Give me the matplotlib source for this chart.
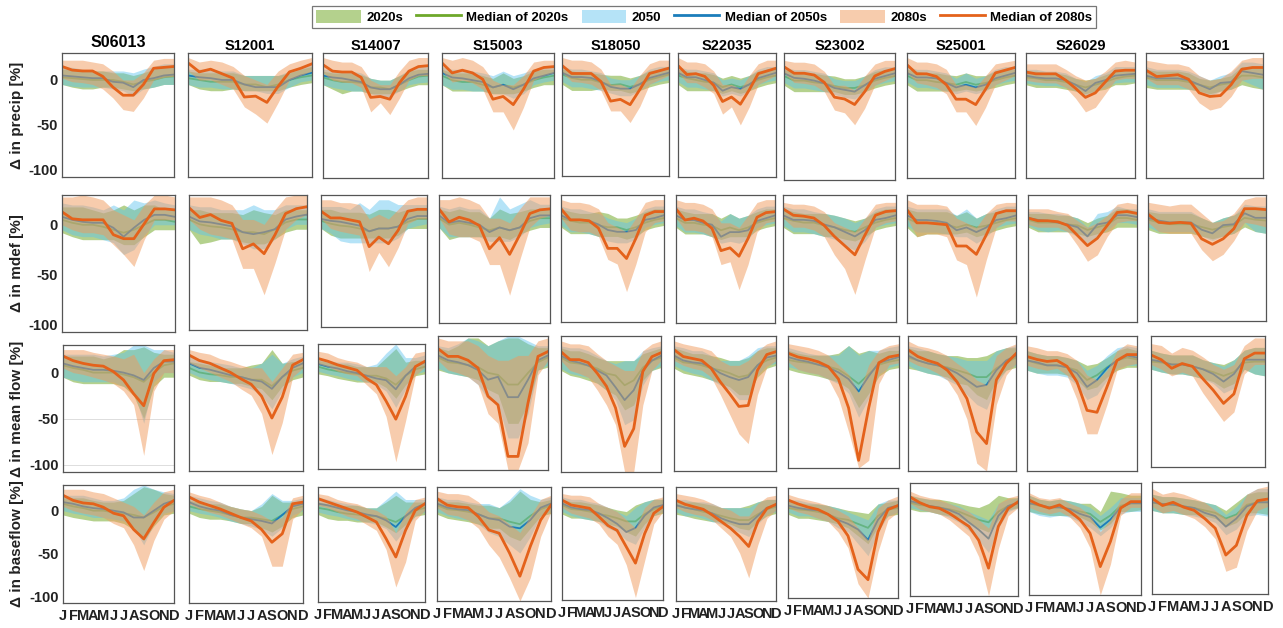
import matplotlib

matplotlib.use("Agg")
import matplotlib.pyplot as plt
from matplotlib.lines import Line2D
from matplotlib.patches import Patch

plt.rcParams["font.family"] = ["Liberation Sans", "DejaVu Sans"]
plt.rcParams["font.weight"] = "bold"

MONTHS = list("JFMAMJJASOND")
STATIONS = ["S06013", "S12001", "S14007", "S15003", "S18050",
            "S22035", "S23002", "S25001", "S26029", "S33001"]
VARIABLES = ["precip", "mdef", "mean flow", "baseflow"]

# ── Change in precipitation [%] ─────────────────────────────────────────
precip_med20 = [
    [3, 2, 1, 0, 0, 0, -2, -5, -2, 0, 3, 4],
    [2, 0, -2, -2, -2, -5, -5, -8, -5, 0, 3, 5],
    [3, 0, -2, -2, -3, -8, -8, -10, -5, 0, 4, 5],
    [5, 0, -2, -2, -5, -8, -5, -8, -5, 0, 3, 5],
    [6, 2, 0, 0, -3, -6, -5, -8, -5, 0, 3, 6],
    [5, 2, 0, -2, -3, -8, -5, -8, -5, 0, 3, 5],
    [5, 0, 0, -2, -3, -6, -8, -8, -5, 0, 3, 5],
    [5, 0, 0, -2, -3, -5, -2, -5, -3, 0, 3, 5],
    [3, 2, 0, 0, -2, -5, -8, -5, -2, 2, 4, 5],
    [3, 0, 0, 0, -2, -5, -8, -5, -3, 5, 5, 3],
]
precip_lo20 = [
    [-5, -8, -10, -10, -8, -8, -10, -12, -10, -8, -5, -5],
    [-5, -10, -12, -12, -10, -12, -12, -12, -12, -8, -5, -3],
    [-5, -10, -15, -12, -12, -15, -15, -15, -12, -8, -5, -5],
    [-5, -12, -12, -12, -12, -15, -15, -15, -12, -8, -5, -5],
    [-5, -12, -12, -12, -10, -12, -12, -15, -12, -8, -5, -3],
    [-5, -12, -12, -12, -12, -15, -12, -15, -12, -8, -5, -3],
    [-5, -12, -12, -12, -12, -12, -15, -15, -12, -8, -5, -3],
    [-5, -12, -12, -12, -12, -12, -10, -12, -10, -8, -5, -3],
    [-5, -8, -8, -8, -10, -12, -15, -12, -10, -5, -5, -3],
    [-8, -10, -10, -10, -10, -12, -15, -12, -10, -5, -8, -10],
]
precip_hi20 = [
    [12, 12, 10, 10, 10, 8, 8, 5, 8, 12, 15, 15],
    [10, 8, 8, 8, 8, 5, 5, 5, 5, 8, 12, 15],
    [10, 8, 8, 8, 6, 2, 0, 0, 5, 10, 12, 12],
    [12, 8, 8, 8, 5, 2, 8, 2, 5, 10, 12, 12],
    [12, 10, 8, 8, 6, 5, 5, 2, 5, 10, 12, 12],
    [12, 10, 8, 8, 6, 2, 5, 2, 5, 10, 12, 12],
    [12, 10, 8, 8, 6, 5, 2, 2, 5, 10, 12, 12],
    [12, 10, 8, 8, 6, 5, 8, 5, 5, 10, 12, 12],
    [10, 10, 8, 8, 6, 2, 0, 2, 6, 10, 12, 12],
    [12, 10, 10, 10, 8, 2, 0, 2, 5, 15, 15, 15],
]
precip_med50 = [
    [5, 4, 3, 2, 2, -2, -3, -8, 0, 2, 5, 6],
    [5, 3, 2, 0, 0, -5, -8, -8, -8, 0, 5, 8],
    [5, 3, 2, 0, -2, -8, -10, -10, -5, 2, 6, 7],
    [8, 3, 2, 0, -2, -8, -5, -10, -5, 2, 5, 8],
    [8, 3, 3, 2, -2, -8, -10, -10, -5, 2, 5, 8],
    [8, 3, 3, 0, -3, -12, -8, -10, -5, 2, 5, 8],
    [8, 3, 2, 0, -3, -8, -10, -12, -5, 2, 5, 8],
    [8, 3, 3, 2, -3, -8, -5, -8, -5, 2, 5, 8],
    [5, 3, 2, 2, 0, -5, -12, -3, 0, 5, 6, 7],
    [5, 2, 2, 2, 0, -5, -10, -3, -2, 10, 8, 6],
]
precip_lo50 = [
    [-5, -7, -8, -8, -8, -10, -12, -18, -10, -8, -5, -5],
    [-5, -8, -8, -10, -10, -12, -12, -15, -15, -8, -2, 0],
    [-5, -8, -10, -12, -12, -15, -18, -18, -12, -5, -3, -2],
    [-5, -10, -10, -12, -12, -15, -15, -20, -15, -5, -2, 0],
    [-2, -8, -8, -10, -12, -15, -18, -18, -12, -5, -2, 0],
    [-2, -8, -8, -10, -12, -18, -15, -18, -12, -5, -2, 0],
    [-2, -8, -8, -10, -12, -15, -18, -20, -12, -5, -2, 0],
    [-2, -8, -8, -10, -12, -15, -12, -15, -12, -5, -2, 0],
    [-3, -5, -6, -6, -8, -12, -18, -12, -8, -3, -2, -2],
    [-5, -8, -8, -8, -10, -12, -18, -12, -10, 0, -5, -10],
]
precip_hi50 = [
    [15, 14, 12, 10, 10, 10, 10, 8, 12, 15, 18, 18],
    [12, 12, 12, 10, 10, 5, 5, 5, 5, 10, 15, 18],
    [12, 12, 10, 10, 8, 2, 0, 0, 5, 12, 15, 15],
    [15, 12, 12, 10, 8, 5, 10, 5, 8, 12, 15, 15],
    [15, 12, 12, 10, 8, 2, 0, 0, 5, 12, 15, 15],
    [15, 12, 12, 10, 8, 0, 2, 0, 5, 12, 15, 15],
    [15, 12, 12, 10, 8, 2, 0, 0, 5, 12, 15, 15],
    [15, 12, 12, 10, 8, 2, 8, 2, 5, 12, 15, 15],
    [12, 12, 10, 10, 8, 2, -2, 5, 8, 15, 15, 15],
    [15, 12, 12, 12, 10, 5, 0, 5, 8, 20, 20, 18],
]
precip_med80 = [
    [15, 11, 10, 10, 4, -8, -17, -17, -5, 13, 14, 15],
    [19, 9, 12, 7, 2, -19, -18, -25, -7, 9, 13, 18],
    [17, 10, 9, 9, 3, -19, -18, -21, -3, 10, 15, 16],
    [19, 8, 11, 8, 1, -21, -18, -27, -10, 10, 14, 15],
    [16, 7, 7, 7, -2, -24, -22, -28, -11, 7, 10, 13],
    [16, 6, 7, 4, -6, -24, -19, -27, -11, 7, 10, 13],
    [15, 8, 8, 6, -2, -18, -20, -26, -12, 5, 10, 13],
    [17, 7, 7, 4, -5, -21, -21, -27, -10, 8, 11, 14],
    [9, 7, 7, 7, 0, -9, -19, -14, -2, 10, 11, 11],
    [11, 4, 5, 6, 1, -14, -18, -17, -5, 12, 14, 14],
]
precip_lo80 = [
    [2, -2, -3, -5, -10, -20, -33, -35, -20, 0, 3, 4],
    [10, 0, 0, -5, -10, -30, -38, -48, -25, 0, 5, 10],
    [8, 0, -2, -3, -8, -35, -25, -38, -20, 0, 5, 5],
    [10, -2, 0, -3, -10, -35, -35, -55, -30, 0, 5, 8],
    [8, -2, -3, -5, -12, -35, -35, -48, -30, -5, 0, 5],
    [8, -3, -3, -8, -15, -38, -30, -50, -30, -5, 0, 5],
    [8, -2, -3, -5, -12, -32, -35, -48, -30, -5, 0, 5],
    [8, -3, -5, -8, -15, -35, -35, -50, -30, -5, 0, 5],
    [0, -2, -3, -3, -8, -20, -35, -30, -15, 0, 2, 2],
    [2, -5, -5, -5, -10, -25, -33, -30, -18, 0, 2, 2],
]
precip_hi80 = [
    [22, 22, 22, 20, 18, 10, 0, 0, 8, 22, 24, 24],
    [25, 20, 22, 20, 15, 5, 0, -5, 10, 18, 22, 25],
    [25, 22, 20, 20, 15, 0, -5, -5, 10, 22, 25, 25],
    [25, 22, 25, 22, 15, 0, -5, -5, 5, 20, 22, 22],
    [25, 22, 22, 20, 12, -5, -5, -10, 5, 18, 22, 22],
    [25, 20, 20, 18, 10, -5, -5, -10, 5, 18, 22, 22],
    [22, 20, 20, 18, 10, -5, -5, -10, 5, 18, 22, 22],
    [25, 20, 20, 18, 12, -5, -5, -8, 5, 18, 20, 22],
    [18, 18, 18, 18, 12, 5, 0, 2, 10, 20, 22, 20],
    [22, 20, 18, 18, 15, 5, 0, 2, 10, 22, 25, 25],
]

# ── Change in moisture deficit [%] ──────────────────────────────────────
mdef_med20 = [
    [5, 2, 0, 0, -2, -5, -8, -5, 0, 5, 5, 3],
    [5, 0, -2, -3, -5, -8, -8, -10, -5, 2, 5, 5],
    [3, 0, -2, -3, -5, -8, -5, -5, -3, 2, 5, 5],
    [5, -2, 0, -2, -5, -8, -5, -8, -5, 2, 5, 5],
    [5, 2, 0, 0, -3, -5, -5, -8, -5, 0, 3, 5],
    [5, 0, 0, -2, -3, -8, -5, -8, -5, 0, 3, 5],
    [5, 2, 0, 0, -3, -5, -8, -10, -5, 0, 3, 5],
    [5, 0, 0, 0, -2, -5, -2, -5, -3, 0, 3, 5],
    [3, 0, 0, 0, -2, -3, -8, -5, -2, 5, 5, 3],
    [3, 0, -2, -2, -2, -5, -8, -5, -3, 5, 3, 2],
]
mdef_lo20 = [
    [-8, -12, -15, -15, -15, -15, -20, -20, -12, -5, -5, -5],
    [-5, -20, -18, -15, -15, -18, -20, -20, -15, -8, -5, -5],
    [-5, -12, -15, -15, -15, -15, -15, -15, -12, -5, -5, -5],
    [-5, -18, -15, -15, -15, -15, -15, -18, -12, -8, -5, -5],
    [-5, -12, -12, -12, -15, -15, -15, -18, -15, -8, -5, -3],
    [-5, -12, -12, -12, -15, -18, -15, -15, -15, -8, -5, -3],
    [-5, -12, -12, -12, -15, -15, -18, -20, -15, -8, -5, -3],
    [-5, -15, -12, -12, -12, -12, -10, -15, -12, -8, -5, -3],
    [-5, -10, -10, -10, -10, -12, -15, -12, -10, -5, -5, -5],
    [-8, -12, -12, -12, -12, -15, -18, -15, -12, -5, -10, -12],
]
mdef_hi20 = [
    [18, 18, 18, 15, 12, 15, 20, 15, 20, 20, 15, 15],
    [15, 15, 12, 12, 12, 10, 15, 12, 10, 15, 15, 15],
    [15, 15, 12, 12, 12, 10, 15, 15, 12, 15, 15, 15],
    [15, 12, 15, 12, 12, 5, 15, 10, 12, 15, 15, 15],
    [15, 12, 10, 10, 12, 10, 5, 5, 8, 12, 15, 15],
    [15, 12, 10, 10, 10, 5, 10, 5, 8, 12, 15, 15],
    [15, 12, 10, 10, 10, 8, 5, 2, 5, 12, 15, 15],
    [15, 12, 12, 12, 12, 8, 12, 5, 10, 12, 15, 15],
    [10, 10, 10, 8, 8, 5, 0, 5, 8, 15, 15, 12],
    [12, 10, 10, 10, 10, 5, 0, 5, 8, 15, 15, 15],
]
mdef_med50 = [
    [8, 5, 3, 2, 2, -3, -12, -3, 5, 10, 10, 8],
    [8, 3, 2, 0, -2, -8, -10, -8, -5, 5, 8, 10],
    [5, 3, 2, 0, -2, -8, -5, -5, -3, 5, 8, 8],
    [8, 0, 2, 0, -2, -10, -5, -8, -5, 5, 8, 8],
    [8, 3, 3, 2, -2, -8, -10, -10, -8, 3, 5, 8],
    [8, 3, 3, 0, -2, -15, -10, -10, -8, 2, 5, 8],
    [8, 3, 3, 2, -2, -5, -10, -15, -8, 3, 5, 8],
    [8, 3, 3, 2, 0, -8, -5, -10, -5, 3, 5, 8],
    [5, 3, 2, 0, -2, -5, -15, -2, 0, 8, 8, 6],
    [5, 2, 0, 0, 0, -8, -12, -3, -2, 10, 5, 5],
]
mdef_lo50 = [
    [-5, -10, -12, -12, -15, -18, -30, -25, -10, 0, 0, 0],
    [-5, -10, -12, -15, -15, -20, -25, -25, -15, -5, 0, 0],
    [-5, -10, -18, -20, -20, -20, -20, -20, -15, -5, -2, 0],
    [-5, -15, -15, -15, -15, -20, -20, -20, -15, -5, -2, 0],
    [-3, -10, -10, -12, -15, -20, -22, -22, -18, -5, -2, 0],
    [-3, -10, -10, -12, -15, -22, -20, -22, -18, -5, -2, 0],
    [-3, -10, -10, -12, -15, -18, -25, -30, -20, -5, -2, 0],
    [-3, -10, -10, -10, -12, -15, -15, -22, -15, -5, -2, 0],
    [-3, -8, -10, -8, -10, -15, -22, -15, -8, 0, 0, -2],
    [-5, -10, -10, -10, -10, -15, -20, -15, -12, 0, -10, -12],
]
mdef_hi50 = [
    [22, 20, 20, 18, 15, 20, 15, 25, 22, 25, 22, 20],
    [20, 18, 18, 15, 15, 15, 20, 15, 15, 20, 20, 20],
    [18, 18, 18, 15, 22, 15, 25, 25, 20, 20, 20, 20],
    [18, 15, 18, 15, 15, 5, 28, 15, 20, 25, 20, 20],
    [18, 15, 15, 12, 10, 5, 2, 0, 5, 15, 18, 18],
    [18, 15, 15, 12, 10, 2, 10, 5, 8, 15, 18, 18],
    [18, 15, 15, 12, 10, 8, 5, 0, 5, 15, 18, 18],
    [18, 15, 15, 15, 15, 8, 15, 5, 10, 15, 18, 18],
    [12, 12, 10, 10, 8, 5, -5, 10, 12, 18, 15, 15],
    [15, 12, 12, 12, 12, 5, 0, 5, 8, 20, 18, 18],
]
mdef_med80 = [
    [13, 6, 5, 5, 5, -10, -14, -14, 1, 16, 16, 15],
    [17, 7, 10, 4, 1, -25, -20, -30, -11, 11, 16, 18],
    [13, 6, 6, 4, 2, -24, -14, -21, -7, 13, 15, 15],
    [15, 1, 6, 3, -3, -28, -16, -34, -13, 10, 14, 15],
    [15, 3, 3, 2, -6, -28, -28, -39, -17, 8, 12, 12],
    [15, 3, 5, 2, -6, -30, -27, -36, -17, 6, 11, 12],
    [15, 8, 7, 5, -3, -15, -25, -35, -13, 8, 12, 13],
    [14, 0, 0, -1, -2, -25, -25, -34, -13, 10, 13, 13],
    [5, 2, 2, 1, -3, -14, -25, -17, -3, 11, 12, 10],
    [9, 0, -1, 0, -1, -18, -24, -18, -7, 15, 15, 14],
]
mdef_lo80 = [
    [0, -5, -8, -8, -10, -20, -30, -42, -15, 5, 5, 5],
    [5, -5, -10, -12, -15, -45, -45, -72, -40, -5, 5, 10],
    [5, -5, -8, -10, -12, -50, -30, -45, -25, 0, 5, 5],
    [5, -12, -15, -15, -20, -45, -45, -78, -40, -5, 5, 8],
    [5, -8, -10, -10, -15, -40, -45, -75, -45, -10, 0, 2],
    [5, -8, -8, -10, -15, -45, -42, -72, -45, -10, 0, 2],
    [5, -5, -5, -8, -15, -35, -50, -78, -40, -5, 0, 2],
    [5, -15, -12, -12, -15, -40, -45, -80, -40, -5, 2, 2],
    [-2, -5, -5, -5, -10, -25, -42, -35, -15, 0, 2, 2],
    [0, -10, -12, -12, -12, -30, -42, -35, -20, 0, -2, -5],
]
mdef_hi80 = [
    [28, 28, 30, 28, 25, 15, 10, 5, 20, 30, 30, 28],
    [28, 28, 28, 25, 20, 5, 5, 0, 15, 28, 30, 30],
    [25, 25, 22, 22, 20, 5, 10, 5, 15, 25, 28, 28],
    [25, 25, 28, 25, 20, 5, 5, 0, 15, 28, 28, 28],
    [25, 22, 22, 20, 15, 0, -5, -10, 5, 22, 25, 25],
    [25, 22, 22, 20, 15, 0, 0, -5, 8, 22, 25, 25],
    [22, 20, 20, 18, 12, 0, -5, -10, 5, 20, 22, 22],
    [25, 20, 20, 20, 18, 5, 0, -5, 10, 20, 22, 22],
    [15, 15, 15, 12, 10, 2, -5, 0, 8, 20, 22, 20],
    [22, 20, 18, 20, 20, 10, 0, 2, 10, 25, 28, 28],
]

# ── Change in mean flow [%] ─────────────────────────────────────────────
flow_med20 = [
    [8, 5, 3, 0, 0, 0, -2, -5, -10, 0, 8, 10],
    [5, 0, -2, -3, -5, -5, -8, -8, -15, -5, 2, 5],
    [5, 2, 0, -2, -3, -5, -5, -8, -15, -5, 2, 5],
    [8, 3, 2, 0, -2, -8, -10, -20, -20, -8, 3, 8],
    [8, 3, 2, 0, -3, -8, -10, -20, -15, -2, 5, 8],
    [8, 3, 2, 0, -3, -5, -8, -12, -10, 0, 5, 8],
    [5, 3, 2, 0, -2, -5, -12, -20, -10, 0, 3, 5],
    [8, 5, 2, 0, -2, -5, -8, -12, -12, -3, 3, 8],
    [5, 2, 0, 0, -2, -5, -15, -10, -2, 5, 8, 6],
    [3, 2, 0, 0, -2, -5, -8, -12, -8, 2, 3, 3],
]
flow_lo20 = [
    [-5, -10, -12, -12, -12, -12, -15, -25, -50, -15, -5, -5],
    [-3, -8, -10, -10, -12, -12, -15, -18, -30, -15, -8, -5],
    [-3, -5, -8, -10, -12, -12, -12, -18, -30, -15, -5, -3],
    [-5, -8, -10, -12, -15, -25, -30, -60, -60, -40, -5, -2],
    [-5, -10, -12, -15, -18, -25, -30, -45, -40, -15, -5, -2],
    [-3, -8, -10, -12, -15, -18, -22, -30, -30, -12, -3, 0],
    [-5, -8, -10, -12, -15, -18, -25, -45, -30, -12, -5, -3],
    [-3, -5, -8, -10, -12, -18, -20, -30, -35, -15, -5, -2],
    [-5, -8, -8, -8, -10, -15, -25, -22, -12, -5, -2, -2],
    [-5, -8, -10, -10, -12, -15, -18, -25, -20, -5, -10, -12],
]
flow_hi20 = [
    [18, 18, 18, 18, 15, 18, 25, 25, 28, 22, 20, 20],
    [12, 10, 8, 5, 5, 5, 8, 10, 25, 10, 12, 12],
    [12, 10, 8, 8, 5, 5, 5, 15, 25, 10, 12, 12],
    [18, 15, 20, 28, 28, 20, 25, 28, 28, 22, 18, 18],
    [18, 15, 15, 12, 8, 5, 5, 5, 5, 12, 15, 18],
    [18, 15, 12, 12, 10, 8, 5, 5, 8, 15, 18, 18],
    [15, 12, 10, 10, 10, 12, 20, 12, 15, 12, 15, 15],
    [18, 15, 15, 12, 10, 10, 8, 8, 10, 15, 18, 18],
    [15, 12, 10, 10, 8, 5, 0, 2, 8, 15, 18, 15],
    [15, 12, 10, 10, 10, 5, 2, 0, 5, 15, 18, 18],
]
flow_med50 = [
    [10, 7, 5, 3, 3, 2, 0, -3, -8, 5, 12, 12],
    [10, 5, 3, 0, -3, -5, -8, -10, -18, -5, 5, 10],
    [8, 5, 3, 0, -2, -5, -8, -10, -20, -5, 5, 10],
    [10, 5, 3, 0, -5, -15, -12, -33, -33, -15, 5, 10],
    [10, 5, 3, 0, -5, -10, -22, -35, -25, -5, 5, 10],
    [10, 5, 3, 2, -2, -8, -12, -15, -12, 0, 8, 10],
    [8, 5, 3, 0, -3, -8, -15, -28, -12, 2, 5, 8],
    [10, 5, 2, 0, -3, -8, -15, -22, -20, -5, 5, 10],
    [5, 3, 0, 0, -2, -8, -22, -15, -3, 5, 10, 8],
    [5, 3, 0, 0, -2, -5, -10, -18, -10, 5, 5, 5],
]
flow_lo50 = [
    [-5, -8, -10, -10, -10, -10, -15, -20, -55, -10, 0, 0],
    [0, -5, -8, -10, -12, -15, -18, -25, -40, -20, -5, 0],
    [0, -3, -5, -8, -10, -12, -15, -22, -40, -20, -3, 0],
    [-3, -8, -10, -12, -20, -35, -40, -75, -75, -50, -5, 0],
    [-3, -8, -10, -12, -18, -25, -35, -60, -55, -20, -5, 0],
    [0, -5, -8, -10, -15, -20, -25, -35, -35, -10, 0, 2],
    [-2, -5, -8, -10, -15, -20, -30, -55, -35, -10, -3, 0],
    [0, -5, -8, -10, -15, -20, -30, -40, -45, -20, -5, 0],
    [-5, -8, -10, -10, -12, -20, -35, -30, -15, -3, 0, 0],
    [-5, -8, -10, -10, -12, -15, -20, -30, -25, -5, -10, -12],
]
flow_hi50 = [
    [20, 20, 20, 20, 18, 20, 22, 30, 30, 25, 25, 22],
    [18, 15, 12, 10, 8, 5, 5, 10, 20, 10, 15, 18],
    [15, 12, 10, 10, 8, 5, 8, 20, 30, 15, 15, 18],
    [20, 18, 22, 28, 25, 20, 25, 30, 30, 25, 20, 20],
    [20, 18, 18, 15, 10, 5, 2, 5, 5, 15, 18, 20],
    [20, 18, 15, 15, 10, 5, 5, 5, 10, 18, 20, 20],
    [18, 15, 12, 10, 10, 10, 20, 10, 15, 15, 18, 20],
    [20, 18, 15, 12, 10, 8, 5, 5, 5, 15, 18, 20],
    [15, 12, 10, 10, 8, 5, -5, 0, 10, 18, 20, 18],
    [15, 12, 10, 10, 10, 5, 2, -2, 5, 15, 18, 18],
]
flow_med80 = [
    [18, 13, 10, 8, 7, 1, -8, -23, -36, -1, 13, 14],
    [19, 13, 10, 5, 0, -7, -13, -26, -50, -27, 8, 14],
    [14, 11, 7, 4, 1, -8, -15, -33, -53, -28, 5, 11],
    [17, 9, 9, 5, -3, -32, -41, -94, -94, -39, 9, 14],
    [14, 6, 6, 3, -8, -21, -43, -82, -64, -6, 9, 13],
    [16, 9, 7, 5, -3, -17, -29, -42, -41, -5, 11, 14],
    [12, 8, 6, 3, -2, -15, -45, -100, -45, 2, 8, 10],
    [16, 9, 5, 2, -5, -17, -34, -68, -80, -15, 2, 12],
    [9, 6, 4, 5, -1, -17, -46, -48, -22, 5, 11, 11],
    [10, 5, -4, 1, -2, -15, -27, -41, -31, 6, 12, 12],
]
flow_lo80 = [
    [5, 0, -2, -5, -8, -12, -20, -35, -90, -20, 0, 0],
    [10, 5, 0, -5, -10, -18, -25, -45, -90, -55, -5, 5],
    [8, 5, 0, -3, -5, -15, -25, -50, -100, -55, -5, 5],
    [5, -5, -8, -12, -20, -50, -60, -108, -108, -80, -10, 5],
    [5, -5, -8, -12, -25, -40, -60, -108, -108, -40, -5, 5],
    [5, 0, -3, -5, -12, -30, -50, -70, -80, -30, -2, 5],
    [3, -5, -8, -10, -15, -35, -70, -108, -100, -20, 0, 2],
    [5, 0, -3, -8, -15, -30, -55, -100, -108, -40, -10, 2],
    [0, -3, -5, -3, -10, -35, -70, -70, -40, -5, 0, 2],
    [0, -5, -12, -8, -12, -30, -45, -60, -50, -10, 0, 0],
]
flow_hi80 = [
    [25, 25, 25, 22, 20, 18, 15, 20, 0, 15, 25, 25],
    [25, 22, 20, 15, 12, 8, 5, 5, -10, 5, 20, 22],
    [22, 20, 15, 12, 10, 5, 5, 5, -5, 5, 20, 22],
    [28, 25, 25, 25, 20, 10, 5, 5, 10, 10, 25, 28],
    [25, 22, 22, 20, 12, 5, 0, -5, -5, 15, 22, 25],
    [25, 22, 20, 18, 15, 5, 0, 0, 5, 15, 22, 25],
    [22, 20, 18, 15, 10, 0, -10, -30, 0, 15, 20, 22],
    [25, 20, 18, 15, 10, 2, -5, -15, -20, 10, 18, 22],
    [20, 18, 15, 15, 12, 5, -10, -15, -5, 15, 22, 20],
    [22, 20, 12, 18, 15, 8, 0, -5, 0, 20, 28, 28],
]

# ── Change in baseflow [%] ──────────────────────────────────────────────
base_med20 = [
    [8, 5, 3, 0, 0, -2, -3, -5, -8, -2, 5, 8],
    [5, 2, 0, -2, -5, -8, -8, -10, -12, -5, 2, 5],
    [5, 3, 0, -2, -3, -5, -5, -8, -12, -5, 2, 5],
    [8, 3, 2, 0, -3, -8, -8, -12, -15, -5, 3, 8],
    [8, 3, 2, 0, -3, -5, -8, -12, -12, -3, 3, 6],
    [8, 5, 3, 0, -2, -5, -8, -10, -10, -3, 3, 6],
    [5, 3, 2, 0, -3, -8, -10, -15, -20, -5, 3, 5],
    [6, 3, 2, 0, -2, -5, -10, -15, -18, -5, 2, 5],
    [5, 2, 0, 0, -2, -5, -8, -18, -10, 2, 5, 5],
    [5, 2, 2, 0, -2, -5, -8, -15, -10, 2, 5, 5],
]
base_lo20 = [
    [-5, -8, -10, -12, -12, -12, -15, -22, -35, -18, -5, -3],
    [-3, -8, -10, -10, -12, -15, -15, -20, -25, -18, -8, -5],
    [-3, -8, -10, -10, -12, -12, -12, -18, -25, -15, -5, -3],
    [-3, -8, -10, -12, -15, -20, -20, -30, -35, -20, -5, -2],
    [-3, -8, -8, -10, -12, -15, -18, -25, -30, -15, -5, -2],
    [-3, -5, -8, -10, -12, -12, -15, -20, -22, -12, -5, -2],
    [-3, -8, -8, -10, -12, -15, -20, -30, -40, -18, -5, -3],
    [-2, -5, -5, -8, -10, -12, -18, -25, -30, -15, -3, 0],
    [-5, -8, -10, -10, -10, -12, -18, -28, -20, -5, -5, -3],
    [-5, -8, -8, -10, -10, -12, -15, -25, -20, -8, -8, -10],
]
base_hi20 = [
    [15, 15, 15, 12, 10, 10, 12, 20, 28, 25, 20, 18],
    [12, 10, 8, 8, 5, 2, 0, 5, 18, 10, 10, 12],
    [12, 10, 8, 8, 8, 5, 5, 12, 20, 12, 12, 12],
    [15, 12, 12, 10, 8, 8, 5, 12, 25, 15, 12, 15],
    [15, 12, 12, 10, 8, 5, 2, 0, 8, 12, 15, 15],
    [15, 12, 12, 10, 8, 5, 5, 5, 8, 12, 15, 15],
    [15, 12, 10, 10, 8, 5, 2, 0, -2, 10, 12, 15],
    [15, 12, 10, 10, 8, 5, 2, 0, 5, 15, 12, 12],
    [15, 10, 8, 10, 8, 5, 5, -5, 20, 18, 15, 15],
    [15, 12, 12, 10, 8, 5, 2, -5, 5, 15, 18, 18],
]
base_med50 = [
    [10, 8, 5, 3, 2, 0, -2, -8, -8, 0, 8, 12],
    [10, 5, 2, 0, -5, -8, -10, -12, -15, -5, 5, 8],
    [10, 8, 5, 2, 0, -3, -5, -10, -18, -5, 5, 10],
    [10, 5, 3, 2, -3, -8, -10, -18, -20, -10, 5, 10],
    [10, 5, 3, 2, -2, -8, -15, -25, -20, -5, 5, 8],
    [8, 5, 3, 2, -2, -8, -12, -15, -15, -5, 5, 8],
    [8, 5, 3, 2, -3, -10, -15, -22, -35, -10, 5, 8],
    [8, 5, 2, 0, -3, -8, -18, -27, -38, -10, 2, 6],
    [5, 3, 0, 0, -2, -8, -12, -25, -15, 0, 5, 5],
    [5, 3, 2, 0, -2, -8, -12, -25, -15, 0, 5, 5],
]
base_lo50 = [
    [0, -3, -5, -8, -8, -10, -12, -20, -40, -15, -3, 0],
    [0, -3, -5, -8, -12, -15, -18, -22, -30, -20, -5, 0],
    [0, -3, -5, -8, -10, -12, -15, -20, -35, -20, -5, 0],
    [0, -5, -8, -10, -15, -25, -30, -40, -50, -30, -5, 0],
    [0, -5, -8, -10, -12, -20, -25, -35, -40, -20, -5, 0],
    [0, -5, -5, -8, -12, -15, -20, -25, -30, -15, -3, 0],
    [0, -5, -5, -8, -12, -20, -25, -40, -55, -25, -5, 0],
    [0, -3, -5, -8, -12, -18, -28, -40, -55, -25, -5, 0],
    [-5, -10, -12, -10, -12, -18, -25, -35, -25, -8, -5, -5],
    [-5, -8, -8, -10, -12, -15, -20, -35, -28, -12, -10, -12],
]
base_hi50 = [
    [18, 18, 18, 15, 12, 12, 15, 25, 30, 25, 22, 20],
    [18, 15, 12, 10, 5, 2, 0, 8, 20, 12, 12, 15],
    [18, 15, 12, 10, 8, 5, 5, 15, 25, 15, 15, 15],
    [18, 15, 15, 12, 10, 10, 5, 15, 28, 20, 15, 18],
    [18, 15, 15, 12, 10, 5, 0, -5, 5, 12, 15, 15],
    [15, 15, 12, 12, 10, 5, 5, 5, 5, 12, 15, 15],
    [15, 15, 12, 10, 8, 5, 0, -5, -10, 10, 15, 15],
    [15, 12, 10, 8, 5, 2, -5, -10, -15, 5, 10, 12],
    [15, 10, 8, 10, 8, 5, 0, -10, 0, 12, 12, 12],
    [15, 12, 12, 10, 8, 5, 2, -10, 0, 15, 22, 22],
]
base_med80 = [
    [18, 12, 9, 8, 4, -3, -6, -22, -33, -14, 4, 12],
    [16, 10, 6, 2, -3, -8, -12, -22, -37, -27, 8, 10],
    [16, 12, 8, 4, 0, -6, -12, -32, -54, -22, 2, 10],
    [16, 8, 6, 5, -6, -22, -26, -50, -78, -42, -10, 8],
    [14, 8, 6, 4, -6, -17, -23, -43, -63, -27, -2, 6],
    [14, 9, 6, 3, -4, -12, -20, -30, -42, -12, 4, 9],
    [15, 10, 6, 3, -3, -12, -30, -72, -85, -25, 3, 8],
    [13, 6, 1, -1, -7, -15, -23, -40, -74, -23, -1, 7],
    [9, 3, -1, 3, -5, -15, -32, -73, -42, -1, 7, 7],
    [10, 1, 5, -1, -5, -15, -27, -60, -48, -11, 7, 9],
]
base_lo80 = [
    [5, 0, -3, -5, -8, -15, -20, -40, -70, -35, -10, 0],
    [8, 2, -2, -5, -10, -15, -20, -30, -65, -65, -10, 2],
    [8, 5, 0, -5, -8, -15, -22, -45, -90, -60, -10, 2],
    [5, -3, -5, -10, -20, -40, -55, -80, -108, -80, -30, 0],
    [5, -2, -5, -8, -15, -30, -40, -65, -105, -60, -15, 0],
    [5, 0, -3, -5, -10, -20, -30, -50, -80, -40, -8, 2],
    [5, 0, -3, -8, -12, -25, -45, -90, -108, -50, -10, 0],
    [5, -2, -5, -8, -15, -25, -35, -60, -108, -50, -10, 0],
    [0, -5, -8, -5, -12, -25, -50, -108, -70, -10, 0, 0],
    [0, -8, -5, -10, -15, -25, -40, -80, -75, -30, -5, 0],
]
base_hi80 = [
    [25, 25, 25, 22, 20, 15, 10, 5, -5, 10, 22, 25],
    [22, 18, 15, 10, 5, 2, 0, -5, -12, -8, 15, 18],
    [22, 20, 15, 12, 10, 5, 2, -5, -25, 0, 15, 18],
    [25, 22, 22, 20, 12, 0, -5, -15, -25, -5, 15, 20],
    [22, 20, 20, 18, 10, 5, 0, -10, -20, 5, 15, 18],
    [22, 20, 18, 15, 10, 5, 2, -5, -5, 10, 18, 20],
    [22, 18, 15, 12, 8, 2, -5, -20, -35, 5, 15, 20],
    [20, 15, 12, 10, 5, 0, -5, -15, -25, 5, 12, 15],
    [18, 12, 10, 12, 5, 0, -10, -30, -15, 10, 18, 18],
    [22, 15, 18, 15, 10, 5, -5, -15, -10, 15, 22, 25],
]

ROWS = [
    (precip_med20, precip_lo20, precip_hi20, precip_med50, precip_lo50,
     precip_hi50, precip_med80, precip_lo80, precip_hi80),
    (mdef_med20, mdef_lo20, mdef_hi20, mdef_med50, mdef_lo50,
     mdef_hi50, mdef_med80, mdef_lo80, mdef_hi80),
    (flow_med20, flow_lo20, flow_hi20, flow_med50, flow_lo50,
     flow_hi50, flow_med80, flow_lo80, flow_hi80),
    (base_med20, base_lo20, base_hi20, base_med50, base_lo50,
     base_hi50, base_med80, base_lo80, base_hi80),
]

# Panel frames in pixels (left, top, right, bottom); the composite is not
# perfectly aligned, so every panel gets its own box.
W, H = 1283, 628
FRAMES = [
    [(62, 53, 174, 177), (188, 53, 312, 177), (323, 53, 428, 178),
     (442, 53, 554, 178), (562, 53, 669, 176), (678, 53, 776, 177),
     (784, 53, 895, 180), (907, 53, 1015, 178), (1026, 53, 1135, 178),
     (1146, 53, 1263, 178)],
    [(62, 195, 175, 332), (189, 195, 307, 330), (321, 195, 427, 327),
     (439, 195, 550, 323), (561, 195, 664, 322), (676, 195, 775, 323),
     (783, 195, 896, 322), (907, 195, 1016, 323), (1028, 195, 1137, 322),
     (1148, 195, 1266, 321)],
    [(63, 345, 174, 472), (189, 345, 303, 471), (318, 344, 425, 469),
     (438, 336, 548, 470), (561, 336, 661, 472), (674, 336, 776, 471),
     (788, 336, 899, 468), (908, 336, 1016, 471), (1027, 336, 1137, 471),
     (1151, 336, 1265, 467)],
    [(63, 485, 174, 603), (189, 485, 303, 603), (318, 487, 425, 602),
     (437, 487, 551, 601), (562, 487, 663, 600), (676, 487, 776, 601),
     (788, 488, 898, 598), (910, 483, 1018, 596), (1029, 483, 1141, 595),
     (1152, 482, 1268, 594)],
]

# band colours and their opacity, median line colours
C20, C50, C80 = "#77ac30", "#5cc3ee", "#f09a5c"
A20, A50, A80 = 0.55, 0.45, 0.5
L20, L50, L80 = "#6ea82a", "#1b7dbb", "#e4621b"
EDGE = "#555555"


def draw_panel(ax, series):
    med20, lo20, hi20, med50, lo50, hi50, med80, lo80, hi80 = series
    x = range(1, 13)
    # each band is laid over the earlier medians, which mutes them to grey
    layers = [(lo20, hi20, med20, C20, A20, L20, 1.3),
              (lo50, hi50, med50, C50, A50, L50, 1.3),
              (lo80, hi80, med80, C80, A80, L80, 2.0)]
    z = 1
    for lo, hi, med, fc, alpha, lc, lw in layers:
        ax.fill_between(x, lo, hi, color=fc, alpha=alpha, lw=0, zorder=z)
        ax.plot(x, med, color=lc, lw=lw, zorder=z + 1)
        z += 2
    ax.set_xlim(1, 12)
    ax.set_ylim(-108, 30)
    for s in ax.spines.values():
        s.set_color(EDGE)
        s.set_linewidth(0.9)
        s.set_zorder(10)
    ax.tick_params(length=0)


fig = plt.figure(figsize=(W / 100, H / 100), dpi=100)

for r, (series, frames) in enumerate(zip(ROWS, FRAMES)):
    for c, (l, t, rt, b) in enumerate(frames):
        ax = fig.add_axes([l / W, 1 - b / H, (rt - l) / W, (b - t) / H])
        draw_panel(ax, [s[c] for s in series])
        if r == 2 and c == 0:
            for yv in (-50, -100):
                ax.axhline(yv, color="#d8d8d8", lw=0.6, zorder=0)
        if c == 0:
            ax.set_yticks([-100, -50, 0])
            ax.set_yticklabels(["-100", "-50", "0"], fontsize=10.5,
                               fontweight="bold", color="#222222")
            ax.tick_params(axis="y", pad=3)
        else:
            ax.set_yticks([])
        if r == 3:
            ax.set_xticks(range(1, 13))
            ax.set_xticklabels(MONTHS, fontsize=10.5, fontweight="bold",
                               color="#222222")
            ax.tick_params(axis="x", pad=4)
        else:
            ax.set_xticks([])
        if r == 0:
            size = 11.5 if c == 0 else 10.5
            ax.set_title(STATIONS[c], fontsize=size, fontweight="bold",
                         pad=4 if c == 0 else 2.5)

    l, t, rt, b = frames[0]
    fig.text(17 / W, 1 - (t + b) / 2 / H, f"\u0394 in {VARIABLES[r]} [%]",
             rotation=90, ha="center", va="center", fontsize=11,
             fontweight="bold", color="#222222")

handles = [
    Patch(facecolor=C20, alpha=A20, edgecolor="none"),
    Line2D([], [], color=L20, lw=2),
    Patch(facecolor=C50, alpha=A50, edgecolor="none"),
    Line2D([], [], color=L50, lw=2),
    Patch(facecolor=C80, alpha=A80, edgecolor="none"),
    Line2D([], [], color=L80, lw=2),
]
labels = ["2020s", "Median of 2020s", "2050", "Median of 2050s",
          "2080s", "Median of 2080s"]
leg = fig.legend(handles, labels, ncol=6, loc="center",
                 bbox_to_anchor=(704 / W, 1 - 17 / H), frameon=True,
                 fancybox=False, edgecolor=EDGE, handlelength=3.4,
                 handleheight=1.1, handletextpad=0.4, columnspacing=1.0,
                 borderpad=0.3, prop={"size": 9.5, "weight": "bold"})
leg.get_frame().set_linewidth(0.9)

fig.savefig("out.png", dpi=100, facecolor="white")
